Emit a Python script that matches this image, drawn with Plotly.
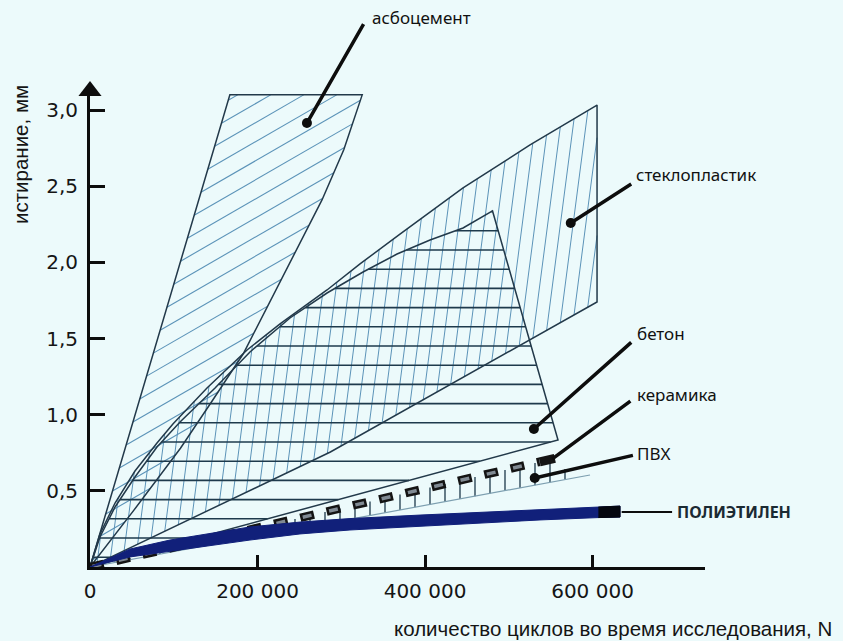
import numpy as np
import plotly.graph_objects as go

# ---------------- data (cycles N, abrasion mm) ----------------
asbestos_x = [0, 167e3, 325e3, 303e3, 277e3, 231e3, 183e3, 147e3, 108e3, 52e3, 0]
asbestos_y = [0, 3.10, 3.10, 2.74, 2.41, 1.92, 1.40, 1.10, 0.78, 0.37, 0]

glass_upper_x = [0, 11.9e3, 29.9e3, 53.7e3, 80e3, 99e3, 139.7e3, 187.5e3, 226.9e3, 283e3,
                 322.4e3, 370.1e3, 445.4e3, 525.4e3, 605.4e3]
glass_upper_y = [0, 0.217, 0.42, 0.63, 0.814, 0.939, 1.175, 1.425, 1.596, 1.819,
                 1.99, 2.186, 2.489, 2.771, 3.033]
glass_lower_x = [605.4e3, 287e3, 0]
glass_lower_y = [1.74, 0.755, 0]

beton_x = [0, 11.9e3, 29.9e3, 53.7e3, 80e3, 107.5e3, 149.3e3, 191e3, 238.8e3, 283e3,
           326e3, 366.6e3, 406e3, 445.4e3, 480.6e3, 558.8e3, 0]
beton_y = [0, 0.197, 0.394, 0.591, 0.788, 0.952, 1.175, 1.412, 1.635, 1.799,
           1.937, 2.055, 2.147, 2.226, 2.338, 0.834, 0]

ceramic_x = [0, 537e3]
ceramic_y = [0, 0.691]
ceramic_end_x = [537e3, 555e3]
ceramic_end_y = [0.691, 0.714]

pvc_x = [0, 597e3]
pvc_y = [0, 0.604]

pe_x = [0, 47.8e3, 95.5e3, 131.3e3, 191e3, 250.7e3, 310.4e3, 394e3, 465.7e3, 537.3e3, 609e3, 632.8e3]
pe_upper_y = [0, 0.118, 0.177, 0.210, 0.263, 0.295, 0.318, 0.341, 0.358, 0.374, 0.394, 0.40]
pe_lower_y = [0, 0.066, 0.105, 0.131, 0.177, 0.217, 0.243, 0.269, 0.289, 0.309, 0.325, 0.328]
pe_end_x = [607e3, 632.8e3]

x_ticks = [0, 200000, 400000, 600000]
x_ticklabels = ["0", "200 000", "400 000", "600 000"]
y_ticks = [0.5, 1.0, 1.5, 2.0, 2.5, 3.0]
y_ticklabels = ["0,5", "1,0", "1,5", "2,0", "2,5", "3,0"]

labels = ["асбоцемент", "стеклопластик", "бетон", "керамика", "ПВХ"]
label_x = [334e3, 650e3, 651e3, 651e3, 651e3]
label_y = [3.61, 2.58, 1.53, 1.13, 0.742]
leader_from_x = [328e3, 648e3, 648e3, 647e3, 650e3]
leader_from_y = [3.578, 2.521, 1.484, 1.097, 0.735]
leader_to_x = [259e3, 574e3, 530e3, 552e3, 531e3]
leader_to_y = [2.915, 2.259, 0.906, 0.71, 0.584]
dot_flags = [True, True, True, False, True]

pe_label = "ПОЛИЭТИЛЕН"
pe_label_x = 699e3
pe_label_y = 0.361
pe_leader_x = [633e3, 695e3]

x_title = "количество циклов во время исследования, N"
y_title = "истирание, мм"

# ---------------- geometry ----------------
W, H = 843, 641
ML, MR, MT, MB = 90, 138, 90, 74
XMAX = 734300
YMAX = 3.132
pw, ph = W - ML - MR, H - MT - MB
sx, sy = pw / XMAX, ph / YMAX


def to_px(x, y):
    return ML + np.asarray(x, float) * sx, (H - MB) - np.asarray(y, float) * sy


def to_data(px, py):
    return (px - ML) / sx, ((H - MB) - py) / sy


def xp(X):
    return X / XMAX


def yp(Y):
    return Y / YMAX


def hatch(xs, ys, angle_deg, spacing, phase=0.0):
    px_, py_ = to_px(xs, ys)
    a = np.radians(angle_deg)
    d = np.array([np.cos(a), -np.sin(a)])
    n = np.array([-d[1], d[0]])
    pts = np.stack([px_, py_], axis=1)
    proj = pts @ n
    ox, oy = [], []
    c = np.floor((proj.min() - phase) / spacing) * spacing + phase
    while c <= proj.max():
        hits = []
        for i in range(len(pts) - 1):
            fa, fb = proj[i] - c, proj[i + 1] - c
            if (fa < 0) != (fb < 0):
                t = fa / (fa - fb)
                hits.append(pts[i] + t * (pts[i + 1] - pts[i]))
        hits.sort(key=lambda p: p @ d)
        for j in range(0, len(hits) - 1, 2):
            for p in (hits[j], hits[j + 1]):
                X, Y = to_data(p[0], p[1])
                ox.append(X)
                oy.append(Y)
            ox.append(None)
            oy.append(None)
        c += spacing
    return ox, oy


glass_x = glass_upper_x + glass_lower_x
glass_y = glass_upper_y + glass_lower_y

HATCH_BLUE = "#5b93b8"
OUTLINE = "#22394a"
DARK = "#1e3a4c"

fig = go.Figure()

# hatching
hx, hy = hatch(asbestos_x, asbestos_y, 30, 16.5, 3)
fig.add_trace(go.Scatter(x=hx, y=hy, mode="lines", line=dict(color=HATCH_BLUE, width=1.1)))
hx, hy = hatch(glass_x, glass_y, 82.6, 12.6, 5)
fig.add_trace(go.Scatter(x=hx, y=hy, mode="lines", line=dict(color=HATCH_BLUE, width=1.0)))
hx, hy = hatch(beton_x, beton_y, 0, 19.2, 538)
fig.add_trace(go.Scatter(x=hx, y=hy, mode="lines", line=dict(color=DARK, width=1.6)))

# outlines
for xs, ys in [(asbestos_x, asbestos_y), (glass_x, glass_y), (beton_x, beton_y)]:
    fig.add_trace(go.Scatter(x=xs, y=ys, mode="lines", line=dict(color=OUTLINE, width=1.5)))

# PVC ticks and line
tick_px = np.arange(100, 576, 15.0)
tx, ty = [], []
for p in tick_px:
    X = (p - ML) / sx
    yp_ = np.interp(X, pvc_x, pvc_y)
    if X <= ceramic_end_x[1]:
        yc = np.interp(X, [ceramic_x[0], ceramic_end_x[1]], [ceramic_y[0], ceramic_end_y[1]])
    else:
        yc = yp_ + 0.07
    tx += [X, X, None]
    ty += [yc, yp_, None]
fig.add_trace(go.Scatter(x=tx, y=ty, mode="lines", line=dict(color="#2c4556", width=1.4)))
fig.add_trace(go.Scatter(x=pvc_x, y=pvc_y, mode="lines", line=dict(color="#7d9fb0", width=1.2)))

# ceramic band
fig.add_trace(go.Scatter(x=ceramic_x, y=ceramic_y, mode="lines",
                         line=dict(color="#141414", width=8.5, dash="14px,13px")))
fig.add_trace(go.Scatter(x=ceramic_x, y=ceramic_y, mode="lines",
                         line=dict(color="#808a93", width=3.5, dash="0px,2.5px,9px,15.5px")))
fig.add_trace(go.Scatter(x=ceramic_end_x, y=ceramic_end_y, mode="lines",
                         line=dict(color="#141414", width=9)))

# polyethylene band
fig.add_trace(go.Scatter(x=pe_x + pe_x[::-1], y=pe_upper_y + pe_lower_y[::-1], mode="lines",
                         fill="toself", fillcolor="#11207a", line=dict(color="#11207a", width=1)))
pe_end_y_up = list(np.interp(pe_end_x, pe_x, pe_upper_y))
pe_end_y_lo = list(np.interp(pe_end_x, pe_x, pe_lower_y))
fig.add_trace(go.Scatter(x=pe_end_x + pe_end_x[::-1], y=pe_end_y_up + pe_end_y_lo[::-1],
                         mode="lines", fill="toself", fillcolor="#05070f",
                         line=dict(color="#05070f", width=1)))

# dots
dx = [x for x, f in zip(leader_to_x, dot_flags) if f]
dy = [y for y, f in zip(leader_to_y, dot_flags) if f]
fig.add_trace(go.Scatter(x=dx, y=dy, mode="markers", marker=dict(color="#0d0d0d", size=10),
                         cliponaxis=False))

# axis arrows
fig.add_trace(go.Scatter(x=[0], y=[to_data(0, 91)[1]], mode="markers", cliponaxis=False,
                         marker=dict(symbol="triangle-up", size=20, color="#0d0d0d")))
fig.add_trace(go.Scatter(x=[to_data(711, 0)[0]], y=[0], mode="markers", cliponaxis=False,
                         marker=dict(symbol="triangle-right", size=20, color="#0d0d0d")))

annotations = []
LABEL_FONT = dict(family="Noto Sans", size=17, color="#111111")
for t, lx, ly, fx, fy, tx_, ty_ in zip(labels, label_x, label_y, leader_from_x, leader_from_y,
                                        leader_to_x, leader_to_y):
    annotations.append(dict(x=tx_, y=ty_, ax=fx, ay=fy, axref="x", ayref="y", xref="x", yref="y",
                            text=" ", font=dict(size=1), showarrow=True, arrowhead=0,
                            arrowwidth=3.5, arrowcolor="#0d0d0d", standoff=0, startstandoff=0))
    annotations.append(dict(x=xp(lx), y=yp(ly), xref="paper", yref="paper", text=t, showarrow=False,
                            xanchor="left", yanchor="middle", font=LABEL_FONT))
annotations.append(dict(x=pe_leader_x[1], y=pe_label_y, ax=pe_leader_x[0], ay=pe_label_y,
                        axref="x", ayref="y", xref="x", yref="y", text=" ", font=dict(size=1),
                        showarrow=True, arrowhead=0, arrowwidth=2, arrowcolor="#0d0d0d",
                        standoff=0, startstandoff=0))
annotations.append(dict(x=xp(pe_label_x), y=yp(pe_label_y), xref="paper", yref="paper",
                        text="<b>" + pe_label + "</b>",
                        showarrow=False, xanchor="left", yanchor="middle",
                        font=dict(family="Noto Sans", size=16, color="#1b2a33")))
annotations.append(dict(x=xp(to_data(834, 0)[0]), y=yp(to_data(0, 628)[1]), xref="paper", yref="paper",
                        text=x_title, showarrow=False, xanchor="right", yanchor="middle",
                        font=dict(family="Liberation Sans", size=20.5, color="#151515")))
annotations.append(dict(x=xp(to_data(20, 0)[0]), y=yp(to_data(0, 155)[1]), xref="paper", yref="paper",
                        text=y_title, showarrow=False, textangle=-90, xanchor="center", yanchor="middle",
                        font=dict(family="Liberation Sans", size=20.5, color="#151515")))

BG = "#ecfafb"
fig.update_layout(
    width=W, height=H, autosize=False,
    margin=dict(l=ML, r=MR, t=MT, b=MB),
    paper_bgcolor=BG, plot_bgcolor=BG,
    showlegend=False,
    annotations=annotations,
    xaxis=dict(range=[0, XMAX], showgrid=False, zeroline=False, showline=True, linecolor="#0d0d0d",
               linewidth=3, ticks="inside", ticklen=12, tickwidth=3, tickcolor="#0d0d0d",
               tickvals=x_ticks, ticktext=x_ticklabels, ticklabelstandoff=4,
               tickfont=dict(family="DejaVu Sans", size=20, color="#151515")),
    yaxis=dict(range=[0, YMAX], showgrid=False, zeroline=False, showline=True, linecolor="#0d0d0d",
               linewidth=3, ticks="inside", ticklen=15, tickwidth=3, tickcolor="#0d0d0d",
               tickvals=y_ticks, ticktext=y_ticklabels, ticklabelstandoff=5,
               tickfont=dict(family="DejaVu Sans", size=20, color="#151515")),
)

fig.write_html("out.html", config={"displayModeBar": False},
               post_script="document.body.style.margin='0';document.body.style.overflow='hidden';")
